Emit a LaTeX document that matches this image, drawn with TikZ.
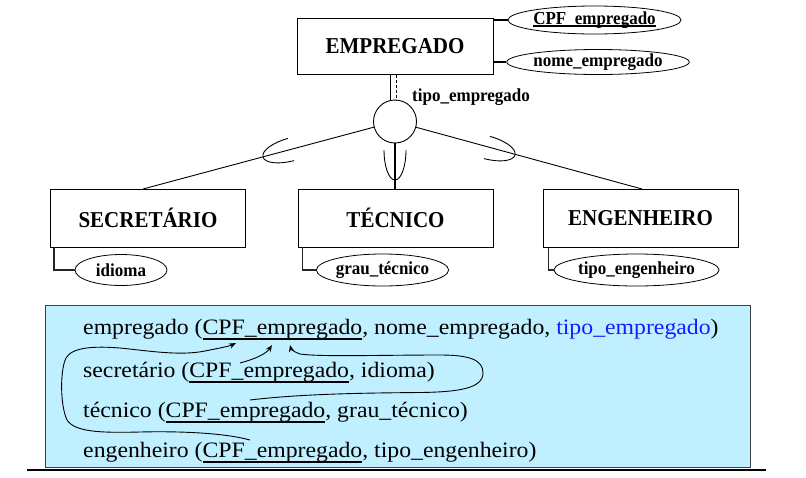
\documentclass[tikz,border=0pt]{standalone}
\usepackage{fontspec}
\setmainfont{Liberation Serif}
\usepackage{graphicx}
\usetikzlibrary{shapes.geometric,arrows.meta}
\definecolor{panelc}{RGB}{192,240,255}
\definecolor{blutxt}{RGB}{25,25,255}
\newsavebox\ulbx
\newcommand\ulx[2][5.6pt]{\sbox\ulbx{#2}\rlap{\rule[-#1]{\wd\ulbx}{1.5pt}}\usebox\ulbx}
\newcommand\wid[1]{\scalebox{1.08}[1]{#1}}
\newcommand\tall[1]{\scalebox{1}[1.08]{#1}}
\begin{document}
\begin{tikzpicture}[x=1pt,y=-1pt,
  entity/.style={draw, line width=1pt, minimum width=195pt, minimum height=57pt, inner sep=0pt,
    font=\fontsize{21}{25}\selectfont\bfseries},
  attr/.style={draw, ellipse, line width=0.8pt, inner sep=0pt,
    font=\fontsize{17}{20}\selectfont\bfseries},
  thinline/.style={line width=0.9pt},
  thickline/.style={line width=1.8pt},
  attrline/.style={line width=1.5pt, black!85},
  ubow/.style={line width=0.9pt},
  ptext/.style={anchor=base west, inner sep=0pt, font=\fontsize{22}{26}\selectfont},
  refarrow/.style={line width=0.9pt, -{Stealth[length=7pt,width=5.5pt]}}
]
\useasboundingbox (0,0) rectangle (806,477);

% superclass
\node[entity, minimum width=196pt, minimum height=56pt] (emp) at (395,46) {\tall{EMPREGADO}};
\node[attr, minimum width=143pt, minimum height=28pt] (cpf) at (594.5,20) {\tall{\ulx[2pt]{CPF\_empregado}}};
\node[attr, minimum width=150pt, minimum height=25pt] (nome) at (598,62) {\tall{nome\_empregado}};
\draw[thickline] (emp.east |- cpf.west) -- (cpf.west);
\draw[thickline] (emp.east |- nome.west) -- (nome.west);

% specialization circle
\node[draw, circle, minimum size=43pt, inner sep=0pt, line width=0.9pt] (circ) at (395,121.5) {};
\draw[thinline] ([xshift=-5pt]emp.south) -- ([xshift=-5pt]circ.north);
\draw[thinline, dash pattern=on 3pt off 2pt] ([xshift=1pt]emp.south) -- ([xshift=1pt]circ.north);
\node[anchor=base west, inner sep=0pt, font=\fontsize{17}{20}\selectfont\bfseries] (tlab) at (412,101) {\tall{tipo\_empregado}};

% subclasses
\node[entity, minimum height=58pt] (sec) at (148,218) {\tall{SECRETÁRIO}};
\node[entity, minimum height=58pt] (tec) at (395.5,218) {\tall{TÉCNICO}};
\node[entity, minimum height=58pt] (eng) at (640.5,218) {\tall{ENGENHEIRO}};
\coordinate (secT) at (143,189);
\coordinate (engT) at (642,189);
\draw[thinline] (circ) -- (secT);
\draw[thinline] (circ) -- (engT);
\draw[thickline] (circ.south) -- (circ.south |- tec.north);

% subset symbols
\begin{scope}[shift={(263,157)}, rotate=15]
  \draw[ubow] (29,11.5) arc[start angle=90, end angle=270, x radius=29, y radius=11.5];
\end{scope}
\begin{scope}[shift={(395,180)}, rotate=90]
  \draw[ubow] (30,11) arc[start angle=90, end angle=270, x radius=30, y radius=11];
\end{scope}
\begin{scope}[shift={(515,155)}, rotate=165]
  \draw[ubow] (29,11.5) arc[start angle=90, end angle=270, x radius=29, y radius=11.5];
\end{scope}

% subclass attributes
\node[attr, minimum width=92pt, minimum height=31pt] (idi) at (121,270) {\tall{idioma}};
\node[attr, minimum width=119pt, minimum height=32pt] (grau) at (382.5,270) {\tall{grau\_técnico}};
\node[attr, minimum width=128pt, minimum height=32pt] (teng) at (636.5,270) {\tall{tipo\_engenheiro}};
\draw[attrline] ([xshift=4pt]sec.south west) |- (idi.west);
\draw[attrline] ([xshift=5pt]tec.south west) |- (grau.west);
\draw[attrline] ([xshift=6pt]eng.south west) |- (teng.west);

% relational schema panel
\node[draw=black!75, fill=panelc, line width=0.8pt, minimum width=705pt, minimum height=162pt, inner sep=0pt] (panel) at (397.5,386) {};
\draw[line width=1.6pt] (27,470) -- (766,470);

\node[ptext] (l1) at (83,334) {\wid{empregado (\ulx{CPF\_empregado}, nome\_empregado, \textcolor{blutxt}{tipo\_empregado})}};
\node[ptext] (l2) at (83,377) {\wid{secretário (\ulx{CPF\_empregado}, idioma)}};
\node[ptext] (l3) at (83,417) {\wid{técnico (\ulx{CPF\_empregado}, grau\_técnico)}};
\node[ptext] (l4) at (83,457) {\wid{engenheiro (\ulx{CPF\_empregado}, tipo\_engenheiro)}};

% foreign key arrows
\coordinate (s2) at (240,363);
\coordinate (t2) at (272,345);
\coordinate (s3) at (250,400);
\coordinate (t3) at (290,345);
\coordinate (s4) at (250,440);
\coordinate (t4) at (236,343);
\draw[refarrow] (s2) .. controls (255,359) and (266,354) .. (t2);
\draw[refarrow] (s3) .. controls (300,394) and (360,393) .. (420,392.5)
  .. controls (460,392) and (483,388) .. (483,373)
  .. controls (483,360) and (470,355) .. (440,355)
  .. controls (380,355) and (320,357) .. (300,354)
  .. controls (294,352) and (291,349) .. (t3);
\draw[refarrow] (s4) .. controls (225,433) and (180,431) .. (140,432)
  .. controls (100,433) and (75,432) .. (67,420)
  .. controls (60,405) and (60,370) .. (66,358)
  .. controls (72,347) and (95,346) .. (120,348)
  .. controls (150,351) and (180,356) .. (205,351)
  .. controls (220,348) and (230,346) .. (t4);
\end{tikzpicture}
\end{document}
